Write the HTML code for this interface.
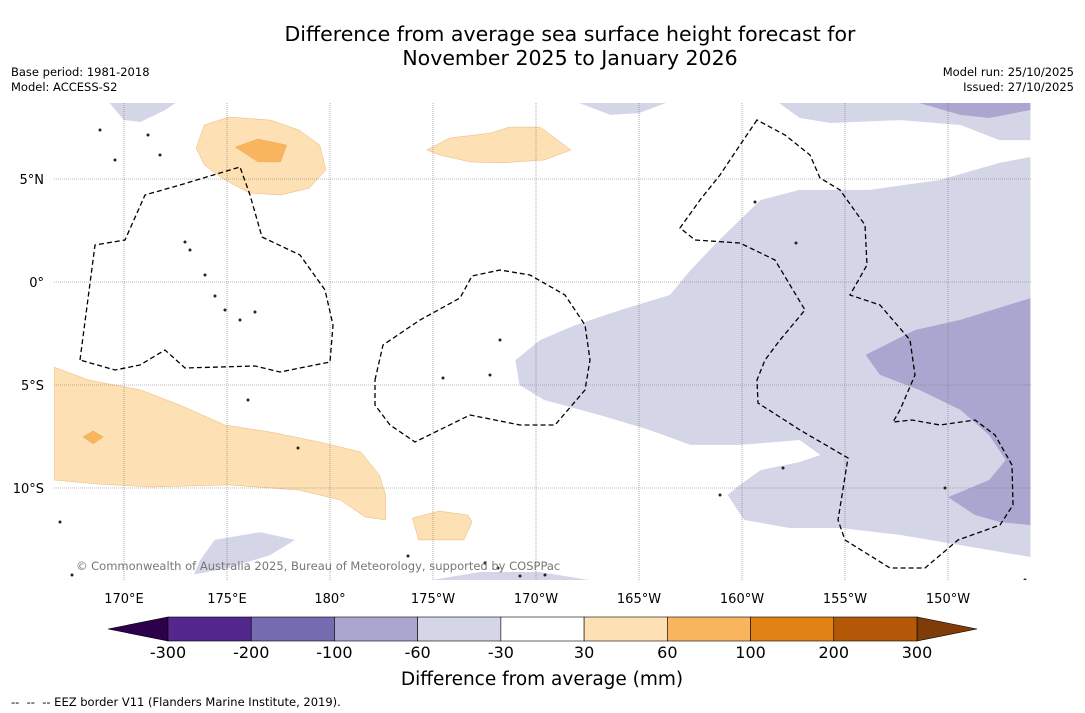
<!DOCTYPE html>
<html><head><meta charset="utf-8">
<style>
body{margin:0;background:#fff;font-family:"DejaVu Sans","Liberation Sans",sans-serif;}
#wrap{position:relative;width:1085px;height:713px;overflow:hidden;background:#fff}
.t{position:absolute;white-space:nowrap;color:#000}
svg text{font-family:"DejaVu Sans","Liberation Sans",sans-serif}
</style></head>
<body>
<div id="wrap">
<div class="t" style="left:0;width:1140px;top:22px;text-align:center;font-size:20.5px;line-height:24px">Difference from average sea surface height forecast for<br>November 2025 to January 2026</div>
<div class="t" style="left:11px;top:65px;font-size:11.5px;line-height:15px">Base period: 1981-2018<br>Model: ACCESS-S2</div>
<div class="t" style="right:11px;top:65px;font-size:11.5px;line-height:15px;text-align:right">Model run: 25/10/2025<br>Issued: 27/10/2025</div>
<svg id="svg" width="1085" height="713" style="position:absolute;left:0;top:0"></svg>
<div class="t" style="left:11px;top:695px;font-size:11.5px">-- &nbsp;-- &nbsp;-- EEZ border V11 (Flanders Marine Institute, 2019).</div>
</div>
<script>
const levels=[-300,-200,-100,-60,-30,30,60,100,200,300];
const colors=["#54278f","#756bb1","#aba6cf","#d5d5e8","#ffffff","#fde0b4","#f9b55e","#e08214","#b35806"];
const lonTicks=[170,175,180,185,190,195,200,205,210];
const lonLabels=["170°E","175°E","180°","175°W","170°W","165°W","160°W","155°W","150°W"];
const latTicks=[5,0,-5,-10];
const latLabels=["5°N","0°","5°S","10°S"];
const regionLevels=[3,2,3,2,3,3,3,3,5,6,5,5,6,5];
const regionCoords=[
[[214,6.07],[212.5,5.78],[209.6,4.95],[206.2,4.47],[202.8,4.47],[200.9,3.98],[198.9,2.04],[197.5,0.58],[196.5,-0.63],[194.1,-1.36],[191.9,-2.09],[190.2,-2.82],[189,-3.79],[189.2,-5],[190.4,-5.73],[193.1,-6.46],[195.5,-7.18],[197.5,-7.91],[199.9,-7.91],[202.8,-7.67],[203.8,-8.4],[202.8,-8.74],[200.9,-9.13],[199.9,-9.85],[199.3,-10.34],[200.1,-11.55],[202.3,-11.94],[204.8,-11.94],[207.7,-12.28],[210.6,-12.77],[214,-13.35]],
[[214,-0.78],[210.6,-1.84],[208.4,-2.33],[206,-3.54],[206.7,-4.51],[208.6,-5.24],[210.6,-6.21],[212,-7.43],[212.8,-8.64],[212,-9.61],[210,-10.44],[211.3,-11.31],[212.5,-11.65],[214,-11.8]],
[[201.8,8.69],[202.8,7.96],[204.3,7.72],[207.7,7.86],[210.6,7.62],[212.5,6.89],[214,6.89],[214,8.69]],
[[208.6,8.69],[210.6,8.11],[212,7.96],[214,8.35],[214,8.69]],
[[192.1,8.69],[193.6,8.11],[195,8.2],[196.3,8.69]],
[[169.3,8.69],[170,7.86],[170.8,7.77],[172,8.35],[172.5,8.69]],
[[173.7,-13.5],[174.4,-12.52],[176.6,-12.14],[178.3,-12.52],[177.1,-13.25],[175.1,-13.88],[173.4,-14.2]],
[[184.9,-14.47],[187.3,-14.08],[190.2,-14.08],[192.6,-14.47]],
[[173.9,7.62],[175.1,8.01],[177.1,7.86],[178.5,7.38],[179.5,6.65],[179.8,5.44],[179,4.56],[177.6,4.22],[176.1,4.32],[174.9,4.95],[173.9,5.68],[173.5,6.5]],
[[175.4,6.55],[176.5,6.94],[177.9,6.65],[177.6,5.83],[176.5,5.83]],
[[184.7,6.41],[185.8,6.99],[187.8,7.23],[188.7,7.52],[190.2,7.52],[191.7,6.41],[190.4,5.92],[188.3,5.78],[186.8,5.83],[185.3,6.17]],
[[166.6,-4.13],[168.3,-4.76],[170.8,-5.24],[172.7,-5.97],[174.9,-6.94],[177.1,-7.28],[179.5,-7.77],[181.5,-8.25],[182.4,-9.37],[182.7,-10.34],[182.7,-11.55],[181.7,-11.41],[180.5,-10.58],[178.5,-10.1],[175.1,-9.85],[171.3,-9.95],[168.8,-9.81],[166.6,-9.61]],
[[168,-7.52],[168.5,-7.23],[169,-7.52],[168.5,-7.86]],
[[184,-11.46],[185.3,-11.12],[186.7,-11.31],[186.9,-11.65],[186.5,-12.52],[184.3,-12.52]]
];
const X=lon=>124+(lon-170)*20.6, Y=lat=>282-lat*20.6;
const NS="http://www.w3.org/2000/svg";
const svg=document.getElementById('svg');
function mk(t,a,p){const e=document.createElementNS(NS,t);for(const k in a)e.setAttribute(k,a[k]);(p||svg).appendChild(e);return e;}
const map=mk('g',{});


mk('clipPath',{id:'cp'},map);
mk('rect',{x:54,y:103,width:977,height:477},document.getElementById('cp'));
const g=mk('g',{'clip-path':'url(#cp)'},map);
regionCoords.forEach((pts,i)=>{
 const d='M'+pts.map(p=>X(p[0]).toFixed(1)+','+Y(p[1]).toFixed(1)).join('L')+'Z';
 const c=colors[regionLevels[i]];
 const p=mk('path',{d:d,fill:c,stroke:regionLevels[i]>=5?'#e6a860':'none','stroke-width':0.4},g);
 
 
});
lonTicks.forEach((lon,i)=>{
 const l=mk('line',{x1:X(lon),x2:X(lon),y1:103,y2:580,stroke:'#777','stroke-width':0.6,'stroke-dasharray':'1,1'},g);
 
 
 const t=mk('text',{x:X(lon),y:603,'text-anchor':'middle','font-size':13,fill:'#000'});
 t.textContent=lonLabels[i];
 
 
});
latTicks.forEach((lat,i)=>{
 const l=mk('line',{x1:54,x2:1031,y1:Y(lat),y2:Y(lat),stroke:'#777','stroke-width':0.6,'stroke-dasharray':'1,1'},g);
 
 
 const t=mk('text',{x:44,y:Y(lat)+5,'text-anchor':'end','font-size':13,fill:'#000'});
 t.textContent=latLabels[i];
 
 
});
const eez=[
"M80,360L95,245L125,240L145,195L180,185L240,167L250,195L262,237L300,255L325,290L333,325L330,362L280,372L255,366L185,368L165,350L140,365L115,370Z",
"M375,380L383,345L420,320L460,298L472,276L500,270L530,275L565,295L585,325L590,360L585,390L555,425L520,425L470,415L415,442L390,425L375,405Z",
"M757,120L740,145L720,175L700,200L680,228L695,240L740,243L775,260L790,285L805,310L780,340L765,360L757,380L758,403L800,430L848,458L838,520L845,540L890,568L925,568L958,540L1000,525L1013,505L1012,465L995,435L975,420L940,425L912,420L893,422L900,410L915,375L910,340L880,305L850,295L867,265L865,225L840,190L820,178L810,155L785,135Z"
];
eez.forEach(d=>{const p=mk('path',{d:d,fill:'none',stroke:'#000','stroke-width':1.3,'stroke-dasharray':'5,3'},g);
 
 });
[[185,242],[190,250],[205,275],[215,296],[225,310],[240,320],[255,312],[500,340],[490,375],[443,378],[755,202],[796,243],[783,468],[720,495],[485,563],[498,568],[60,522],[72,575],[148,135],[160,155],[100,130],[115,160],[248,400],[298,448],[408,556],[520,576],[545,575],[945,488],[1025,580]].forEach(p=>{
 const c=mk('circle',{cx:p[0],cy:p[1],r:1.5,fill:'#222'},g);
 
 });
const cr=mk('text',{x:76,y:570,'font-size':11.5,fill:'#777'});
cr.textContent='© Commonwealth of Australia 2025, Bureau of Meteorology, supported by COSPPac';


const cb=mk('g',{});


const cx0=168,cw=(917-168)/colors.length,cy=617,ch=24;
mk('polygon',{points:`108,629 ${cx0},${cy} ${cx0},${cy+ch}`,fill:'#2d004b',stroke:'#000','stroke-width':0.6},cb);
mk('polygon',{points:`977,629 917,${cy} 917,${cy+ch}`,fill:'#7f3b08',stroke:'#000','stroke-width':0.6},cb);
colors.forEach((c,i)=>{const r=mk('rect',{x:cx0+i*cw,y:cy,width:cw,height:ch,fill:c,stroke:'#000','stroke-width':0.6},cb);
 
 });
levels.forEach((v,i)=>{const t=mk('text',{x:cx0+i*cw,y:658,'text-anchor':'middle','font-size':16,fill:'#000'},cb);
 t.textContent=v;
 
 });
const ct=mk('text',{x:542,y:685,'text-anchor':'middle','font-size':18.5,fill:'#000'},cb);
ct.textContent='Difference from average (mm)';


</script>
</body></html>
